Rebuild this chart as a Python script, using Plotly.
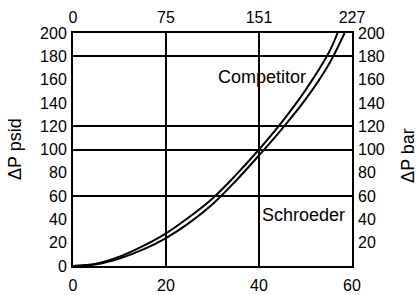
import plotly.graph_objects as go

competitor_flow = [0, 5, 10, 15, 20, 25, 30, 35, 40, 45, 50, 55, 56.9]
competitor_psid = [0, 2, 8, 17, 28, 42, 58, 78, 100, 124, 151, 183, 200]
schroeder_flow = [0, 5, 10, 15, 20, 25, 30, 35, 40, 45, 50, 55, 58.4]
schroeder_psid = [0, 1.5, 6.5, 14, 24, 37, 53, 73, 95, 118, 143, 173, 200]

bottom_ticks = [0, 20, 40, 60]
top_tick_labels = ["0", "75", "151", "227"]
left_ticks = [0, 20, 40, 60, 80, 100, 120, 140, 160, 180, 200]
right_ticks = [20, 40, 60, 80, 100, 120, 140, 160, 180, 200]
grid_rows = [60, 100, 120, 180]

FONT = "Liberation Sans, Arial, sans-serif"
tick_font = dict(size=16, color="black", family=FONT)
label_font = dict(size=18, color="black", family=FONT)

fig = go.Figure()
fig.add_trace(go.Scatter(x=competitor_flow, y=competitor_psid, mode="lines",
                         line=dict(color="black", width=2, shape="spline"),
                         showlegend=False, hoverinfo="skip"))
fig.add_trace(go.Scatter(x=schroeder_flow, y=schroeder_psid, mode="lines",
                         line=dict(color="black", width=2, shape="spline"),
                         showlegend=False, hoverinfo="skip"))
# invisible traces to activate secondary axes
fig.add_trace(go.Scatter(x=[0], y=[0], xaxis="x2", yaxis="y2", mode="markers",
                         marker=dict(opacity=0), showlegend=False, hoverinfo="skip"))
fig.add_trace(go.Scatter(x=[0], y=[0], xaxis="x", yaxis="y3", mode="markers",
                         marker=dict(opacity=0), showlegend=False, hoverinfo="skip"))

fig.add_annotation(x=30.8, y=162, text="Competitor", showarrow=False,
                   xanchor="left", yanchor="middle", font=label_font)
fig.add_annotation(x=40.2, y=44, text="Schroeder", showarrow=False,
                   xanchor="left", yanchor="middle", font=label_font)
fig.add_annotation(xref="paper", yref="paper", x=-0.208, y=0.502, text="ΔP psid",
                   textangle=-90, showarrow=False, xanchor="center", yanchor="middle",
                   font=label_font)
fig.add_annotation(xref="paper", yref="paper", x=1.200, y=0.476, text="ΔP bar",
                   textangle=-90, showarrow=False, xanchor="center", yanchor="middle",
                   font=label_font)

fig.update_layout(
    width=418, height=295,
    margin=dict(l=73, r=66, t=33, b=29),
    paper_bgcolor="white", plot_bgcolor="white",
    font=tick_font,
    hovermode=False,
    xaxis=dict(range=[0, 60], tickvals=bottom_ticks, ticktext=[str(v) for v in bottom_ticks],
               showgrid=True, gridcolor="black", gridwidth=2, zeroline=False,
               showline=True, linecolor="black", linewidth=2, mirror=True,
               ticks="", tickfont=tick_font, automargin=False, ticklabelstandoff=4),
    xaxis2=dict(range=[0, 60], overlaying="x", side="top", tickvals=bottom_ticks,
                ticktext=top_tick_labels, showgrid=False, zeroline=False,
                showline=False, ticks="", tickfont=tick_font, automargin=False,
                ticklabelstandoff=6),
    yaxis=dict(range=[0, 200], tickvals=left_ticks, ticktext=[str(v) for v in left_ticks],
               showgrid=False, zeroline=False,
               showline=True, linecolor="black", linewidth=2, mirror=True,
               ticks="", tickfont=tick_font, automargin=False, ticklabelstandoff=1),
    yaxis2=dict(range=[0, 200], overlaying="y", side="right", tickvals=right_ticks,
                ticktext=[str(v) for v in right_ticks], showgrid=False, zeroline=False,
                showline=False, ticks="", tickfont=tick_font, automargin=False,
                ticklabelstandoff=5),
    yaxis3=dict(range=[0, 200], overlaying="y", side="left", tickvals=grid_rows,
                showticklabels=False, showgrid=True, gridcolor="black", gridwidth=2,
                zeroline=False, showline=False, ticks="", automargin=False),
)

fig.write_html("out.html", config={"displayModeBar": False, "staticPlot": True},
               post_script="document.body.style.margin='0';document.body.style.padding='0';")
